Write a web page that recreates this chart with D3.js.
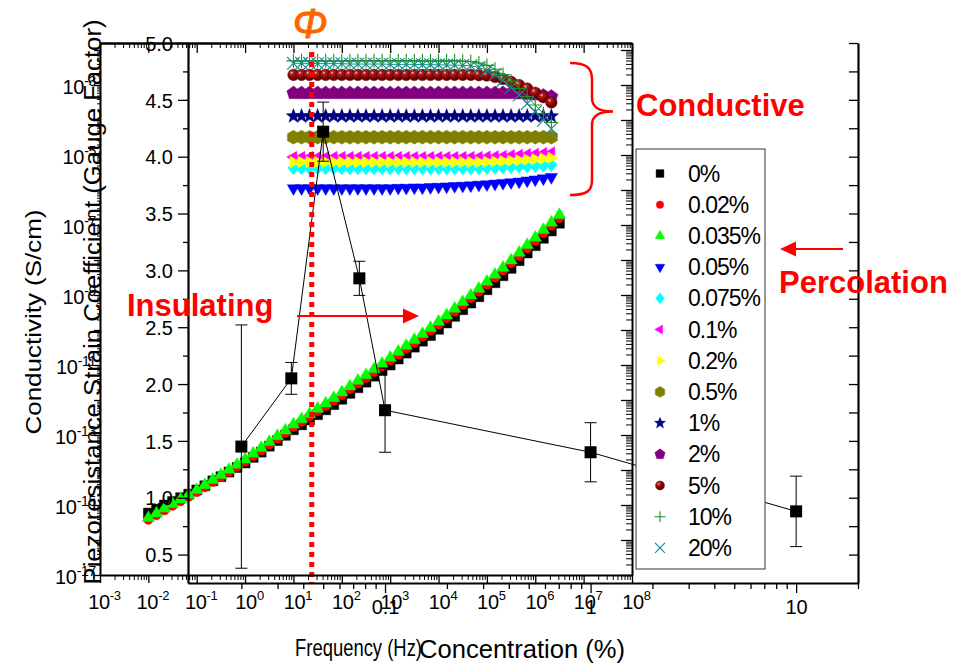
<!DOCTYPE html>
<html><head><meta charset="utf-8">
<script src="https://cdn.jsdelivr.net/npm/d3@7"></script>
<style>
body{margin:0;background:#fff}
svg{display:block}
text{font-family:Arial,"Liberation Sans",sans-serif}
</style></head>
<body><svg id="c" width="953" height="665"></svg>
<script>
// ================= DATA =================
const seriesLabels = ["0%","0.02%","0.035%","0.05%","0.075%","0.1%","0.2%","0.5%","1%","2%","5%","10%","20%"];

// Frequency (Hz) for insulating samples (0%, 0.02%, 0.035%)
const freqInsulating = [0.01,0.0147,0.0215,0.0316,0.0464,0.0681,0.1,0.147,0.215,0.316,0.464,0.681,
  1,1.47,2.15,3.16,4.64,6.81,10,14.7,21.5,31.6,46.4,68.1,100,147,215,316,464,681,
  1000,1470,2150,3160,4640,6810,1e4,1.47e4,2.15e4,3.16e4,4.64e4,6.81e4,
  1e5,1.47e5,2.15e5,3.16e5,4.64e5,6.81e5,1e6,1.47e6,2.15e6,3.16e6];
// Frequency (Hz) for conductive samples
const freqConductive = [10,14.7,21.5,31.6,46.4,68.1,100,147,215,316,464,681,
  1000,1470,2150,3160,4640,6810,1e4,1.47e4,2.15e4,3.16e4,4.64e4,6.81e4,
  1e5,1.47e5,2.15e5,3.16e5,4.64e5,6.81e5,1e6,1.47e6,2.15e6];

// log10 of conductivity (S/cm)
const logCond_0pct = [-15.23,-15.12,-15.00,-14.90,-14.79,-14.69,-14.57,-14.45,-14.31,-14.19,
  -14.06,-13.93,-13.80,-13.64,-13.49,-13.32,-13.16,-13.01,-12.85,-12.71,
  -12.57,-12.42,-12.28,-12.13,-11.98,-11.81,-11.65,-11.49,-11.32,-11.16,
  -11.00,-10.83,-10.66,-10.49,-10.32,-10.16,-9.98,-9.80,-9.61,-9.42,
  -9.23,-9.05,-8.85,-8.65,-8.45,-8.24,-8.02,-7.80,-7.59,-7.38,-7.17,-6.95];
const logCond_0p02pct = [-15.42,-15.29,-15.15,-15.02,-14.89,-14.76,-14.63,-14.49,-14.34,-14.20,
  -14.05,-13.91,-13.76,-13.60,-13.44,-13.27,-13.10,-12.94,-12.77,-12.62,
  -12.47,-12.32,-12.17,-12.02,-11.86,-11.69,-11.53,-11.37,-11.20,-11.04,
  -10.87,-10.70,-10.53,-10.36,-10.19,-10.02,-9.84,-9.66,-9.47,-9.28,
  -9.09,-8.90,-8.70,-8.50,-8.30,-8.09,-7.88,-7.66,-7.45,-7.23,-7.02,-6.80];
const logCond_0p035pct = [-15.37,-15.24,-15.10,-14.97,-14.84,-14.71,-14.57,-14.43,-14.28,-14.14,
  -13.99,-13.85,-13.70,-13.53,-13.37,-13.20,-13.03,-12.87,-12.70,-12.55,
  -12.40,-12.25,-12.10,-11.94,-11.78,-11.61,-11.45,-11.29,-11.12,-10.96,
  -10.79,-10.62,-10.45,-10.28,-10.11,-9.94,-9.76,-9.58,-9.39,-9.20,
  -9.01,-8.82,-8.62,-8.42,-8.22,-8.01,-7.79,-7.57,-7.36,-7.14,-6.93,-6.71];
const logCond_0p05pct = [-5.95,-5.95,-5.95,-5.95,-5.95,-5.95,-5.95,-5.95,-5.95,-5.95,-5.95,-5.95,-5.95,
  -5.94,-5.94,-5.93,-5.93,-5.92,-5.91,
  -5.90,-5.89,-5.88,-5.87,-5.85,-5.84,-5.82,-5.80,-5.78,-5.76,-5.73,-5.70,-5.67,-5.63];
const logCond_0p075pct = [-5.37,-5.37,-5.37,-5.37,-5.37,-5.37,-5.37,-5.37,-5.37,-5.37,-5.37,-5.37,
  -5.37,-5.37,-5.37,-5.37,-5.37,-5.37,-5.37,-5.37,-5.37,-5.37,-5.37,-5.37,
  -5.36,-5.36,-5.35,-5.34,-5.33,-5.32,-5.31,-5.30,-5.28];
const logCond_0p1pct = [-5.06,-5.06,-5.06,-5.06,-5.06,-5.06,-5.06,-5.06,-5.06,-5.06,-5.06,-5.06,
  -5.06,-5.06,-5.06,-5.06,-5.06,-5.06,-5.06,-5.06,-5.06,-5.06,-5.06,-5.06,
  -5.05,-5.04,-5.03,-5.01,-5.00,-4.98,-4.97,-4.95,-4.93];
const logCond_0p2pct = [-5.20,-5.20,-5.20,-5.20,-5.20,-5.20,-5.20,-5.20,-5.20,-5.20,-5.20,-5.20,
  -5.20,-5.20,-5.20,-5.20,-5.20,-5.20,-5.20,-5.20,-5.20,-5.20,-5.20,-5.20,
  -5.19,-5.18,-5.17,-5.16,-5.15,-5.13,-5.12,-5.10,-5.08];
const logCond_0p5pct = [-4.49,-4.49,-4.49,-4.49,-4.49,-4.49,-4.49,-4.49,-4.49,-4.49,-4.49,-4.49,
  -4.49,-4.49,-4.49,-4.49,-4.49,-4.49,-4.49,-4.49,-4.49,-4.49,-4.49,-4.49,
  -4.49,-4.49,-4.49,-4.49,-4.49,-4.49,-4.49,-4.49,-4.49];
const logCond_1pct = [-3.89,-3.89,-3.89,-3.89,-3.89,-3.89,-3.89,-3.89,-3.89,-3.89,-3.89,-3.89,
  -3.89,-3.89,-3.89,-3.89,-3.89,-3.89,-3.89,-3.89,-3.89,-3.89,-3.89,-3.89,
  -3.89,-3.89,-3.89,-3.89,-3.89,-3.89,-3.89,-3.89,-3.89];
const logCond_2pct = [-3.23,-3.23,-3.23,-3.23,-3.23,-3.23,-3.23,-3.23,-3.23,-3.23,-3.23,-3.23,
  -3.23,-3.23,-3.23,-3.23,-3.23,-3.23,-3.23,-3.23,-3.23,-3.23,-3.23,-3.23,
  -3.23,-3.23,-3.23,-3.23,-3.24,-3.25,-3.27,-3.30,-3.33];
const logCond_5pct = [-2.71,-2.71,-2.71,-2.71,-2.71,-2.71,-2.71,-2.71,-2.71,-2.71,-2.71,-2.71,
  -2.71,-2.71,-2.71,-2.71,-2.71,-2.71,-2.71,-2.71,-2.71,-2.71,-2.71,-2.72,-2.73,
  -2.77,-2.83,-2.91,-3.00,-3.10,-3.22,-3.35,-3.50];
const logCond_10pct = [-2.31,-2.31,-2.31,-2.31,-2.31,-2.31,-2.31,-2.31,-2.31,-2.31,-2.31,-2.31,
  -2.31,-2.31,-2.31,-2.31,-2.31,-2.31,-2.31,-2.31,-2.31,-2.32,
  -2.33,-2.37,-2.44,-2.55,-2.70,-2.89,-3.10,-3.33,-3.57,-3.82,-4.07];
const logCond_20pct = [-2.38,-2.38,-2.38,-2.39,-2.39,-2.39,-2.39,-2.40,-2.40,-2.40,-2.40,-2.40,
  -2.41,-2.41,-2.41,-2.41,-2.42,-2.42,-2.42,-2.43,-2.43,-2.44,
  -2.45,-2.50,-2.58,-2.70,-2.87,-3.07,-3.29,-3.53,-3.77,-4.01,-4.25];

// Piezoresistance strain coefficient vs concentration (%)
const gfConcentration = [0.02,0.035,0.05,0.075,0.1,1,10];
const gaugeFactor     = [1.45,2.05,4.22,2.93,1.77,1.40,0.88];
const gaugeFactorErr  = [1.07,0.14,0.26,0.15,0.37,0.26,0.31];
const percolationThreshold = 0.044; // concentration (%) of dotted line Φ

// Tick values
const freqTickExp = [-3,-2,-1,0,1,2,3,4,5,6,7,8];
const condTickExp = [-17,-16,-15,-14,-13,-12,-11,-10,-9,-8,-7,-6,-5,-4,-3,-2];
const condLabelExp = [-17,-15,-13,-11,-9,-7,-5,-3];
const gfTicks = [0.5,1.0,1.5,2.0,2.5,3.0,3.5,4.0,4.5,5.0];
const concTicks = [0.1,1,10];

// ================= STYLES =================
const style = {
  "0%":     {shape:"square",  fill:"#000000"},
  "0.02%":  {shape:"circle",  fill:"#ff0000"},
  "0.035%": {shape:"triUp",   fill:"#00ff00"},
  "0.05%":  {shape:"triDown", fill:"#0000ff"},
  "0.075%": {shape:"diamond", fill:"#00ffff"},
  "0.1%":   {shape:"triLeft", fill:"#ff00ff"},
  "0.2%":   {shape:"triRight",fill:"#ffff00"},
  "0.5%":   {shape:"hexagon", fill:"#808000"},
  "1%":     {shape:"star",    fill:"#000080"},
  "2%":     {shape:"pentagon",fill:"#800080"},
  "5%":     {shape:"sphere",  fill:"url(#sph)"},
  "10%":    {shape:"plus",    stroke:"#1e901e", line:true},
  "20%":    {shape:"times",   stroke:"#128a8a", line:true}
};
const seriesData = {
  "0%":[freqInsulating,logCond_0pct], "0.02%":[freqInsulating,logCond_0p02pct],
  "0.035%":[freqInsulating,logCond_0p035pct], "0.05%":[freqConductive,logCond_0p05pct],
  "0.075%":[freqConductive,logCond_0p075pct], "0.1%":[freqConductive,logCond_0p1pct],
  "0.2%":[freqConductive,logCond_0p2pct], "0.5%":[freqConductive,logCond_0p5pct],
  "1%":[freqConductive,logCond_1pct], "2%":[freqConductive,logCond_2pct],
  "5%":[freqConductive,logCond_5pct], "10%":[freqConductive,logCond_10pct],
  "20%":[freqConductive,logCond_20pct]
};

function poly(n, r, rot, rInner){
  const pts=[]; const m = rInner ? 2*n : n;
  for(let i=0;i<m;i++){
    const a = rot + i*2*Math.PI/m; const rr = (rInner && i%2) ? rInner : r;
    pts.push([rr*Math.sin(a), -rr*Math.cos(a)]);
  }
  return "M"+pts.map(p=>p[0].toFixed(2)+","+p[1].toFixed(2)).join("L")+"Z";
}
function shapePath(shape, s){
  switch(shape){
    case "square": {const h=5*s; return `M${-h},${-h}H${h}V${h}H${-h}Z`;}
    case "circle": return d3.symbol(d3.symbolCircle, Math.PI*Math.pow(4.8*s,2))();
    case "sphere": return d3.symbol(d3.symbolCircle, Math.PI*Math.pow(5.8*s,2))();
    case "triUp": return poly(3,7.2*s,0);
    case "triDown": return poly(3,7.2*s,Math.PI);
    case "triLeft": return poly(3,6.8*s,-Math.PI/2);
    case "triRight": return poly(3,6.8*s,Math.PI/2);
    case "diamond": {const h=7*s,w=5.6*s; return `M0,${-h}L${w},0L0,${h}L${-w},0Z`;}
    case "hexagon": return poly(6,7*s,0);
    case "pentagon": return poly(5,7*s,0);
    case "star": return poly(5,7.6*s,0,3.2*s);
    case "plus": {const h=7*s; return `M${-h},0H${h}M0,${-h}V${h}`;}
    case "times": {const h=6.3*s; return `M${-h},${-h}L${h},${h}M${-h},${h}L${h},${-h}`;}
  }
}

// ================= SCALES =================
const svg = d3.select("#c");
const xA = d3.scaleLog().domain([1e-3,1e8]).range([100,632]);
const yA = d3.scaleLog().domain([1e-17,Math.pow(10,-1.8)]).range([575,43]);
const xB = d3.scaleLog().domain([0.011,20]).range([188,858]);
const yB = d3.scaleLinear().domain([0.25,5.0]).range([583,43]);

const defs = svg.append("defs");
const rg = defs.append("radialGradient").attr("id","sph").attr("cx","35%").attr("cy","32%").attr("r","65%");
rg.append("stop").attr("offset","0%").attr("stop-color","#ffd0d0");
rg.append("stop").attr("offset","22%").attr("stop-color","#b02020");
rg.append("stop").attr("offset","70%").attr("stop-color","#800000");
rg.append("stop").attr("offset","100%").attr("stop-color","#5a0000");

// ================= CHART A: conductivity =================
const gA = svg.append("g");
seriesLabels.forEach(lab=>{
  const st = style[lab]; const [fr, lv] = seriesData[lab];
  const pts = fr.map((f,i)=>({f, v:Math.pow(10,lv[i])}));
  const g = gA.append("g");
  if(st.line){
    g.append("path").attr("d", d3.line().x(d=>xA(d.f)).y(d=>yA(d.v))(pts))
      .attr("fill","none").attr("stroke",st.stroke).attr("stroke-width",1);
  }
  const p = shapePath(st.shape,1);
  g.selectAll("path.m").data(pts).join("path").attr("class","m")
    .attr("transform",d=>`translate(${xA(d.f)},${yA(d.v)})`)
    .attr("d",p)
    .attr("fill", st.fill || "none")
    .attr("stroke", st.stroke || (st.shape==="sphere" ? "#600000" : st.fill))
    .attr("stroke-width", st.stroke ? 1.1 : 0.4);
});

// ================= CHART B: gauge factor =================
const gB = svg.append("g");
const bPts = gfConcentration.map((c,i)=>({c, v:gaugeFactor[i], e:gaugeFactorErr[i]}));
gB.append("path").attr("d", d3.line().x(d=>xB(d.c)).y(d=>yB(d.v))(bPts))
  .attr("fill","none").attr("stroke","#000").attr("stroke-width",1);
const eb = gB.selectAll("g.eb").data(bPts).join("g").attr("class","eb");
eb.append("path").attr("d",d=>{
  const x=xB(d.c), y1=yB(d.v+d.e), y2=yB(d.v-d.e);
  return `M${x},${y1}V${y2}M${x-6},${y1}H${x+6}M${x-6},${y2}H${x+6}`;
}).attr("stroke","#000").attr("stroke-width",1).attr("fill","none");
gB.selectAll("rect.sq").data(bPts).join("rect").attr("class","sq")
  .attr("x",d=>xB(d.c)-6).attr("y",d=>yB(d.v)-6).attr("width",12).attr("height",12).attr("fill","#000");

// Percolation dotted line
svg.append("line").attr("x1",xB(percolationThreshold)).attr("x2",xB(percolationThreshold))
  .attr("y1",52).attr("y2",583).attr("stroke","#ff0000").attr("stroke-width",5).attr("stroke-dasharray","5,5");

// ================= LEGEND =================
const lg = svg.append("g");
lg.append("rect").attr("x",636).attr("y",149).attr("width",129).attr("height",420)
  .attr("fill","#fff").attr("stroke","#333").attr("stroke-width",1);
seriesLabels.forEach((lab,i)=>{
  const y = 173.5 + i*31.2; const st = style[lab];
  lg.append("path").attr("transform",`translate(660,${y})`).attr("d",shapePath(st.shape,0.78))
    .attr("fill",st.fill||"none").attr("stroke",st.stroke||(st.shape==="sphere"?"#600000":st.fill))
    .attr("stroke-width",st.stroke?1.1:0.4);
  lg.append("text").attr("x",688).attr("y",y+8).attr("font-size",23).attr("letter-spacing",-1).attr("fill","#000").text(lab);
});

// ================= AXES =================
function minorLog(lo, hi){ // log minor positions
  const out=[]; for(let e=lo;e<hi;e++) for(let m=2;m<=9;m++) out.push(m*Math.pow(10,e)); return out;
}
function styleAxis(g, w){
  g.select(".domain").attr("stroke","#000").attr("stroke-width",w);
  g.selectAll(".tick line").attr("stroke","#000").attr("stroke-width",1.3);
}
function supLabels(g, size, supSize, supDy){
  g.attr("font-size",size).attr("font-family",'Arial,"Liberation Sans",sans-serif');
  g.selectAll(".tick text").each(function(){
    const t=d3.select(this); const s=t.text(); if(s==="") return;
    t.text(null).attr("font-size",size).attr("letter-spacing",-0.3);
    t.append("tspan").text("10");
    t.append("tspan").attr("dy",supDy).attr("font-size",supSize).text(s);
  });
}
const condTicks = condTickExp.map(e=>Math.pow(10,e));
const condMinor = minorLog(-17,-2).filter(v=>v<=Math.pow(10,-1.8));
const freqTicks = freqTickExp.map(e=>Math.pow(10,e));
const freqMinor = minorLog(-3,8);

// A left
const aL = svg.append("g").attr("transform","translate(100,0)")
  .call(d3.axisLeft(yA).tickValues(condTicks).tickSizeInner(6).tickSizeOuter(0).tickPadding(-2)
    .tickFormat(d=>{const e=Math.round(Math.log10(d)); return condLabelExp.includes(e)? String(e):"";}));
aL.selectAll(".tick text").attr("dy","0.4em").attr("fill","#000");
supLabels(aL,20,14,-8); styleAxis(aL,2);
svg.append("g").attr("transform","translate(100,0)")
  .call(d3.axisLeft(yA).tickValues(condMinor).tickSize(3).tickFormat(""))
  .call(g=>{g.select(".domain").remove(); g.selectAll("line").attr("stroke","#000");});
// A right (mirror)
const aR = svg.append("g").attr("transform","translate(632,0)")
  .call(d3.axisLeft(yA).tickValues(condTicks).tickSizeInner(11).tickSizeOuter(0).tickFormat(""));
styleAxis(aR,2);
svg.append("g").attr("transform","translate(632,0)")
  .call(d3.axisLeft(yA).tickValues(condMinor).tickSize(6).tickFormat(""))
  .call(g=>{g.select(".domain").remove(); g.selectAll("line").attr("stroke","#000");});
// A bottom
const aB = svg.append("g").attr("transform","translate(0,575)")
  .call(d3.axisBottom(xA).tickValues(freqTicks).tickSizeInner(8).tickSizeOuter(0).tickPadding(17)
    .tickFormat(d=>String(Math.round(Math.log10(d)))));
aB.selectAll(".tick text").attr("dx",4).attr("dy","0.45em").attr("fill","#000");
supLabels(aB,20,13,-9); styleAxis(aB,2);
svg.append("g").attr("transform","translate(0,575)")
  .call(d3.axisBottom(xA).tickValues(freqMinor).tickSize(5).tickFormat(""))
  .call(g=>{g.select(".domain").remove(); g.selectAll("line").attr("stroke","#000");});
// A top (mirror, inward)
const aT = svg.append("g").attr("transform","translate(0,43)")
  .call(d3.axisBottom(xA).tickValues(freqTicks).tickSizeInner(10).tickSizeOuter(0).tickFormat(""));
styleAxis(aT,2.5);
svg.append("g").attr("transform","translate(0,43)")
  .call(d3.axisBottom(xA).tickValues(freqMinor).tickSize(5).tickFormat(""))
  .call(g=>{g.select(".domain").remove(); g.selectAll("line").attr("stroke","#000");});

// B left
const gfMinor = [0.75,1.25,1.75,2.25,2.75,3.25,3.75,4.25,4.75];
const bL = svg.append("g").attr("transform","translate(188,0)")
  .call(d3.axisLeft(yB).tickValues(gfTicks).tickSizeInner(10).tickSizeOuter(0).tickPadding(5)
    .tickFormat(d3.format(".1f")));
bL.attr("font-size",20).attr("font-family",'Arial,"Liberation Sans",sans-serif');
bL.selectAll(".tick text").attr("dy","0.36em").attr("fill","#000");
styleAxis(bL,2.2);
svg.append("g").attr("transform","translate(188,0)")
  .call(d3.axisLeft(yB).tickValues(gfMinor).tickSize(5).tickFormat(""))
  .call(g=>{g.select(".domain").remove(); g.selectAll("line").attr("stroke","#000").attr("stroke-width",1.3);});
// B right
const bR = svg.append("g").attr("transform","translate(858,0)")
  .call(d3.axisLeft(yB).tickValues(gfTicks.concat(gfMinor)).tickSizeInner(9).tickSizeOuter(0).tickFormat(""));
styleAxis(bR,2.2);
// B bottom
const concMinor = [0.02,0.03,0.04,0.05,0.06,0.07,0.08,0.09,0.2,0.3,0.4,0.5,0.6,0.7,0.8,0.9,2,3,4,5,6,7,8,9,20];
const bB = svg.append("g").attr("transform","translate(0,583)")
  .call(d3.axisBottom(xB).tickValues(concTicks).tickSizeInner(10).tickSizeOuter(0).tickPadding(10)
    .tickFormat(d=>String(d)));
bB.attr("font-size",20).attr("font-family",'Arial,"Liberation Sans",sans-serif');
bB.selectAll(".tick text").attr("dy","0.55em").attr("fill","#000");
styleAxis(bB,2.2);
svg.append("g").attr("transform","translate(0,583)")
  .call(d3.axisBottom(xB).tickValues(concMinor).tickSize(6).tickFormat(""))
  .call(g=>{g.select(".domain").remove(); g.selectAll("line").attr("stroke","#000").attr("stroke-width",1.3);});

// ================= TITLES =================
svg.append("text").attr("transform","translate(41,322) rotate(-90)").attr("text-anchor","middle")
  .attr("font-size",22).attr("textLength",225).attr("lengthAdjust","spacingAndGlyphs").text("Conductivity (S/cm)");
svg.append("text").attr("transform","translate(101,302) rotate(-90)").attr("text-anchor","middle")
  .attr("font-size",23).attr("textLength",565).attr("lengthAdjust","spacingAndGlyphs")
  .text("Piezoresistance Strain Coefficient (Gauge Factor)");
svg.append("text").attr("x",295).attr("y",656).attr("font-size",24)
  .attr("textLength",127).attr("lengthAdjust","spacingAndGlyphs").text("Frequency (Hz)");
svg.append("text").attr("x",419).attr("y",658).attr("font-size",25)
  .attr("textLength",206).attr("lengthAdjust","spacingAndGlyphs").text("Concentration (%)");

// ================= ANNOTATIONS =================
const red="#ff0000";
svg.append("text").attr("x",636).attr("y",116).attr("font-size",31).attr("font-weight","bold").attr("fill",red).text("Conductive");
svg.append("text").attr("x",779).attr("y",293).attr("font-size",31).attr("font-weight","bold").attr("fill",red).text("Percolation");
svg.append("text").attr("x",127).attr("y",316).attr("font-size",31).attr("font-weight","bold").attr("fill",red).text("Insulating");
svg.append("path").attr("d","M297,316H406").attr("stroke",red).attr("stroke-width",2.2);
svg.append("path").attr("d","M419,316L403,308.5L403,323.5Z").attr("fill",red);
svg.append("path").attr("d","M843,249H793").attr("stroke",red).attr("stroke-width",2.2);
svg.append("path").attr("d","M780,249L796,241.5L796,256.5Z").attr("fill",red);
svg.append("path").attr("d","M570,63C587,63 592,68 592,80L592,98C592,107 598,111.5 613,111.5C598,111.5 592,116 592,125L592,180C592,191 587,195 570,195")
  .attr("fill","none").attr("stroke",red).attr("stroke-width",2.5);
svg.append("text").attr("x",310).attr("y",38).attr("text-anchor","middle")
  .attr("font-family",'"Times New Roman","Liberation Serif",serif').attr("font-style","italic")
  .attr("font-size",42).attr("fill","#ff6600").attr("stroke","#ff6600").attr("stroke-width",0.8).text("Φ");
</script></body></html>
